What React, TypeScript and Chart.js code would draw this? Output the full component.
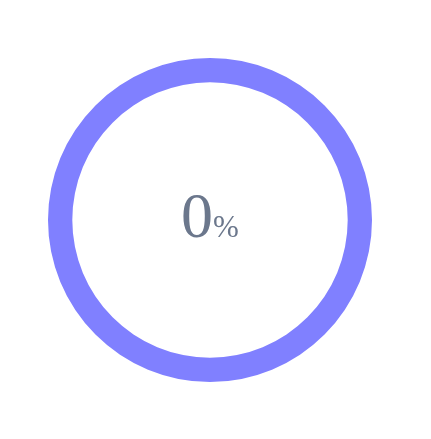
import React, { useEffect, useRef } from "react";
import { Chart, registerables } from "chart.js";

Chart.register(...registerables);

const labels = ["Done", "Remaining"];
const values = [0, 100];
const colors = ["#8080ff", "#8080ff"];
const percentText = "0";
const unitText = "%";

const centerText = {
  id: "centerText",
  afterDraw(chart: any) {
    const { ctx } = chart;
    const meta = chart.getDatasetMeta(0);
    const arc = meta.data[0];
    const cx = arc.x;
    const cy = arc.y;
    ctx.save();
    ctx.textBaseline = "alphabetic";
    ctx.textAlign = "left";
    const bigFont = '64px "Liberation Serif", "Times New Roman", serif';
    const smallFont = '31px "Liberation Serif", "Times New Roman", serif';
    ctx.font = bigFont;
    const w1 = ctx.measureText(percentText).width;
    ctx.font = smallFont;
    const w2 = ctx.measureText(unitText).width;
    const total = w1 + w2;
    const x0 = cx - total / 2;
    const baseline = cy + 17;
    ctx.fillStyle = "#6b778c";
    ctx.font = bigFont;
    ctx.fillText(percentText, x0, baseline);
    ctx.font = smallFont;
    ctx.fillText(unitText, x0 + w1, baseline);
    ctx.restore();
  },
};

export default function App() {
  const ref = useRef<HTMLCanvasElement>(null);
  useEffect(() => {
    document.body.style.margin = "0";
    const chart = new Chart(ref.current!, {
      type: "doughnut",
      data: {
        labels,
        datasets: [
          {
            data: values,
            backgroundColor: colors,
            borderWidth: 0,
            hoverBorderWidth: 0,
            hoverOffset: 0,
          },
        ],
      },
      options: {
        animation: false,
        responsive: false,
        cutout: "85%",
        layout: { padding: { left: 48, right: 59, top: 58, bottom: 57 } },
        plugins: {
          legend: { display: false },
          tooltip: { enabled: false },
        },
        events: [],
      },
      plugins: [centerText],
    });
    return () => chart.destroy();
  }, []);
  return (
    <div style={{ width: 431, height: 439 }}>
      <canvas ref={ref} width={431} height={439} style={{ display: "block" }} />
    </div>
  );
}
